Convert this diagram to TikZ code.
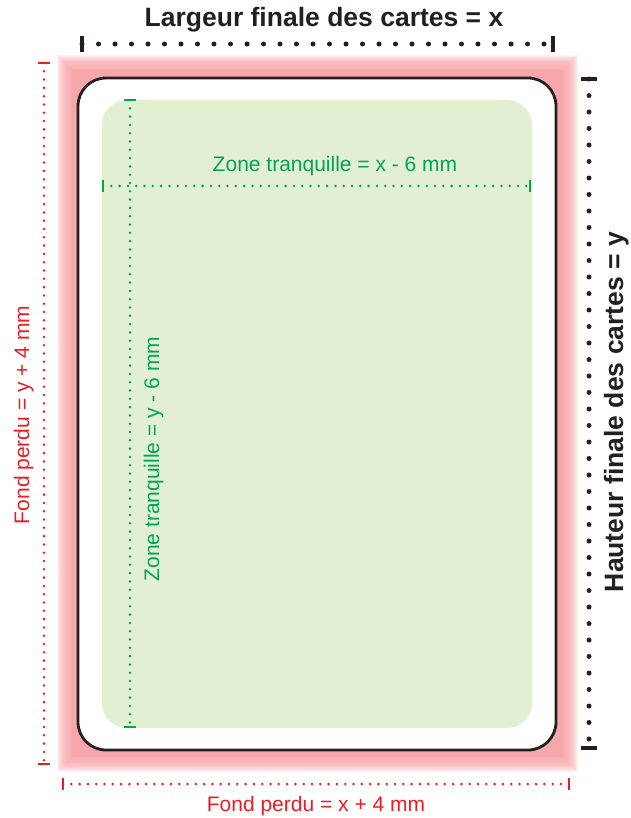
\documentclass[tikz,border=0pt]{standalone}
\usepackage{fontspec}
\setmainfont{Liberation Sans}
\usepackage{tikz}
\definecolor{cardblack}{RGB}{35,31,32}
\definecolor{bleedpink}{RGB}{247,166,170}
\definecolor{bleedred}{RGB}{237,28,36}
\definecolor{safefill}{RGB}{226,239,209}
\definecolor{safegreen}{RGB}{0,166,81}
\tikzset{
	blackdots/.style={draw=cardblack, line width=5pt, line cap=round, dash pattern=on 0pt off 16.5pt},
	reddots/.style={draw=bleedred, line width=2.8pt, line cap=round, dash pattern=on 0pt off 8.3pt},
	greendots/.style={draw=safegreen, line width=2.8pt, line cap=round, dash pattern=on 0pt off 8.3pt},
	blacktick/.style={draw=cardblack, line width=3.5pt},
	redtick/.style={draw=bleedred, line width=2.8pt},
	greentick/.style={draw=safegreen, line width=2.8pt},
	bigtitle/.style={text=cardblack, font=\fontsize{26.5}{30}\selectfont\bfseries, inner sep=0pt},
	redlabel/.style={text=bleedred, font=\fontsize{21}{25}\selectfont, inner sep=0pt},
	greenlabel/.style={text=safegreen, font=\fontsize{21}{25}\selectfont, inner sep=0pt}
}

\begin{document}
\begin{tikzpicture}[x=1pt, y=-1pt]
		%%%%% START %%%%%
		\useasboundingbox (0, 0) rectangle (630, 818);
		
		% fond perdu, bords flous
		\foreach \d in {0,...,14}
			\fill[bleedpink, opacity=0.15] (57+\d, 55+\d) rectangle (578-\d, 772-\d);
		\fill[bleedpink] (72, 70) rectangle (563, 757);
		
		% carte et zone tranquille
		\draw[line width=2.8pt, draw=cardblack, fill=white, rounded corners=28pt] (78, 78) rectangle (556, 750);
		\fill[safefill, rounded corners=25pt] (102, 100) rectangle (532, 728);
		
		% largeur finale
		\coordinate (largeurL) at (82, 44);
		\coordinate (largeurR) at (553, 44);
		\draw[blackdots] (largeurL) -- (largeurR);
		\draw[blacktick] ([yshift=8pt]largeurL) -- ([yshift=-8pt]largeurL);
		\draw[blacktick] ([yshift=8pt]largeurR) -- ([yshift=-8pt]largeurR);
		\node[bigtitle, anchor=base] (largeur) at (324, 27) {Largeur finale des cartes = x};
		
		% hauteur finale
		\coordinate (hauteurT) at (589, 79);
		\coordinate (hauteurB) at (589, 748);
		\draw[blackdots] (hauteurT) -- (hauteurB);
		\draw[blacktick] ([xshift=-8pt]hauteurT) -- ([xshift=8pt]hauteurT);
		\draw[blacktick] ([xshift=-8pt]hauteurB) -- ([xshift=8pt]hauteurB);
		\node[bigtitle, rotate=90, anchor=base] (hauteur) at (623, 412) {Hauteur finale des cartes = y};
		
		% fond perdu
		\coordinate (perduT) at (44, 63);
		\coordinate (perduB) at (44, 764);
		\draw[reddots] (perduT) -- (perduB);
		\draw[redtick] ([xshift=-6pt]perduT) -- ([xshift=6pt]perduT);
		\draw[redtick] ([xshift=-6pt]perduB) -- ([xshift=6pt]perduB);
		\node[redlabel, rotate=90, anchor=base] (perduy) at (29, 415) {Fond perdu = y + 4 mm};
		
		\coordinate (perduL) at (63, 784);
		\coordinate (perduR) at (569, 784);
		\draw[reddots] (perduL) -- (perduR);
		\draw[redtick] ([yshift=6pt]perduL) -- ([yshift=-6pt]perduL);
		\draw[redtick] ([yshift=6pt]perduR) -- ([yshift=-6pt]perduR);
		\node[redlabel, anchor=base] (perdux) at (316, 811) {Fond perdu = x + 4 mm};
		
		% zone tranquille
		\coordinate (zoneT) at (130, 100);
		\coordinate (zoneB) at (130, 727);
		\draw[greendots] (zoneT) -- (zoneB);
		\draw[greentick] ([xshift=-6pt]zoneT) -- ([xshift=6pt]zoneT);
		\draw[greentick] ([xshift=-6pt]zoneB) -- ([xshift=6pt]zoneB);
		\node[greenlabel, rotate=90, anchor=base] (zoney) at (159, 459) {Zone tranquille = y - 6 mm};
		
		\coordinate (zoneL) at (103, 186);
		\coordinate (zoneR) at (530, 186);
		\draw[greendots] (zoneL) -- (zoneR);
		\draw[greentick] ([yshift=6pt]zoneL) -- ([yshift=-6pt]zoneL);
		\draw[greentick] ([yshift=6pt]zoneR) -- ([yshift=-6pt]zoneR);
		\node[greenlabel, anchor=base] (zonex) at (335, 172) {Zone tranquille = x - 6 mm};
		
		%%%%% END %%%%%
	\end{tikzpicture}
\end{document}
